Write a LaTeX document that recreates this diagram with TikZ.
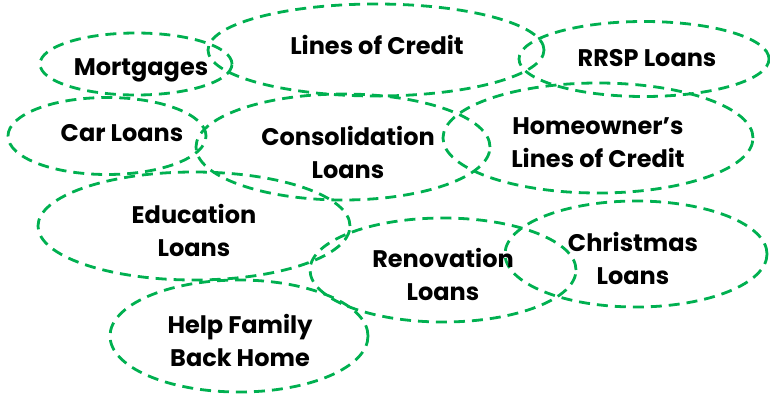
\documentclass[tikz,border=0pt]{standalone}
\usepackage{fontspec}
\setmainfont{Poppins}
\usetikzlibrary{shapes.geometric}
\definecolor{dgreen}{RGB}{0,176,80}
\tikzset{
  blob/.style={ellipse, draw=dgreen, line width=2.8pt, dash pattern=on 11pt off 7pt, inner sep=0pt},
  lbl/.style={font=\fontsize{24}{33}\selectfont\bfseries, align=center, text=black, inner sep=0pt}
}
\begin{document}
\begin{tikzpicture}[x=1pt,y=-1pt]
\useasboundingbox (0,0) rectangle (770,394);
\node[blob, minimum width=192pt, minimum height=62pt] (e1) at (136,64) {};
\node[blob, minimum width=336pt, minimum height=92pt] (e2) at (376,50) {};
\node[blob, minimum width=250pt, minimum height=75pt] (e3) at (644,59) {};
\node[blob, minimum width=198pt, minimum height=77pt] (e4) at (107,136) {};
\node[blob, minimum width=294pt, minimum height=106pt] (e5) at (343,147) {};
\node[blob, minimum width=310pt, minimum height=110pt] (e6) at (598,138) {};
\node[blob, minimum width=312pt, minimum height=108pt] (e7) at (194,226) {};
\node[blob, minimum width=266pt, minimum height=104pt] (e8) at (443,270) {};
\node[blob, minimum width=262pt, minimum height=106pt] (e9) at (636,254) {};
\node[blob, minimum width=258pt, minimum height=112pt] (e10) at (239,336) {};
\node[lbl] (t1) at (141,70) {Mortgages};
\node[lbl] (t2) at (377,45) {Lines of Credit};
\node[lbl] (t3) at (647,58) {RRSP Loans};
\node[lbl] (t4) at (122,133) {Car Loans};
\node[lbl] (t5) at (348,152) {Consolidation\\Loans};
\node[lbl] (t6) at (598,143) {Homeowner’s\\Lines of Credit};
\node[lbl] (t7) at (194,230) {Education\\Loans};
\node[lbl] (t8) at (443,274) {Renovation\\Loans};
\node[lbl] (t9) at (633,258) {Christmas\\Loans};
\node[lbl] (t10) at (240,340) {Help Family\\Back Home};
\end{tikzpicture}
\end{document}
